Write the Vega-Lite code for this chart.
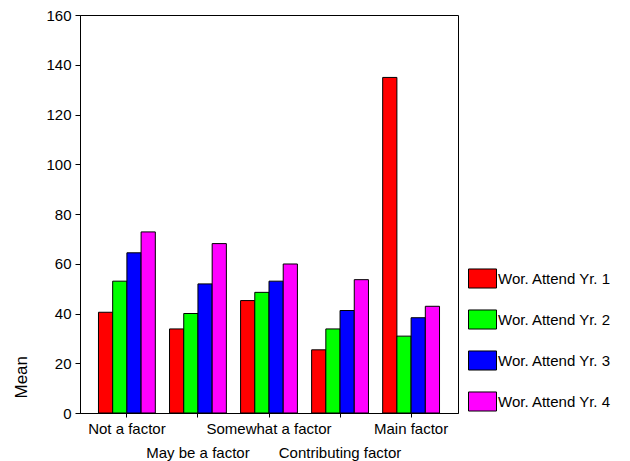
{
  "$schema": "https://vega.github.io/schema/vega-lite/v6.json",
  "width": 378,
  "height": 398,
  "autosize": {"type": "none"},
  "padding": {"left": 80, "top": 15, "right": 172, "bottom": 48},
  "background": "white",
  "data": {"values": [
    {"factor": "Not a factor", "series": "Wor. Attend Yr. 1", "mean": 40.5},
    {"factor": "Not a factor", "series": "Wor. Attend Yr. 2", "mean": 53.0},
    {"factor": "Not a factor", "series": "Wor. Attend Yr. 3", "mean": 64.4},
    {"factor": "Not a factor", "series": "Wor. Attend Yr. 4", "mean": 72.8},
    {"factor": "May be a factor", "series": "Wor. Attend Yr. 1", "mean": 33.8},
    {"factor": "May be a factor", "series": "Wor. Attend Yr. 2", "mean": 40.0},
    {"factor": "May be a factor", "series": "Wor. Attend Yr. 3", "mean": 51.9},
    {"factor": "May be a factor", "series": "Wor. Attend Yr. 4", "mean": 68.1},
    {"factor": "Somewhat a factor", "series": "Wor. Attend Yr. 1", "mean": 45.2},
    {"factor": "Somewhat a factor", "series": "Wor. Attend Yr. 2", "mean": 48.5},
    {"factor": "Somewhat a factor", "series": "Wor. Attend Yr. 3", "mean": 53.0},
    {"factor": "Somewhat a factor", "series": "Wor. Attend Yr. 4", "mean": 59.9},
    {"factor": "Contributing factor", "series": "Wor. Attend Yr. 1", "mean": 25.4},
    {"factor": "Contributing factor", "series": "Wor. Attend Yr. 2", "mean": 33.8},
    {"factor": "Contributing factor", "series": "Wor. Attend Yr. 3", "mean": 41.2},
    {"factor": "Contributing factor", "series": "Wor. Attend Yr. 4", "mean": 53.6},
    {"factor": "Main factor", "series": "Wor. Attend Yr. 1", "mean": 134.9},
    {"factor": "Main factor", "series": "Wor. Attend Yr. 2", "mean": 30.9},
    {"factor": "Main factor", "series": "Wor. Attend Yr. 3", "mean": 38.3},
    {"factor": "Main factor", "series": "Wor. Attend Yr. 4", "mean": 42.9}
  ]},
  "mark": {"type": "bar", "stroke": "black", "strokeWidth": 1},
  "encoding": {
    "x": {
      "field": "factor", "type": "nominal",
      "sort": ["Not a factor", "May be a factor", "Somewhat a factor", "Contributing factor", "Main factor"],
      "scale": {"paddingInner": 0.2, "paddingOuter": 0.26},
      "axis": {
        "title": null, "labelAngle": 0, "labelFontSize": 15, "labelColor": "black",
        "labelExpr": "datum.value == 'May be a factor' || datum.value == 'Contributing factor' ? ['', datum.label] : datum.label",
        "labelLineHeight": 24, "labelPadding": 4, "tickSize": 4, "tickColor": "black",
        "domainColor": "black", "labelOverlap": false, "labelBound": false
      }
    },
    "xOffset": {"field": "series", "type": "nominal", "scale": {"paddingInner": 0, "paddingOuter": 0}},
    "y": {
      "field": "mean", "type": "quantitative",
      "scale": {"domain": [0, 160], "nice": false},
      "axis": {
        "title": "Mean", "grid": false, "values": [0, 20, 40, 60, 80, 100, 120, 140, 160],
        "labelFontSize": 15, "labelColor": "black", "tickSize": 5, "tickColor": "black",
        "domainColor": "black", "labelPadding": 4,
        "titleFontSize": 17, "titleFontWeight": "normal", "titleColor": "black",
        "titleAngle": 270, "titleAlign": "left", "titleBaseline": "alphabetic",
        "titleX": -54, "titleY": 383
      }
    },
    "fill": {
      "field": "series", "type": "nominal",
      "scale": {"range": ["#FF0000", "#00FF00", "#0000FF", "#FF00FF"]},
      "legend": {
        "title": null, "orient": "none", "legendX": 388, "legendY": 249,
        "symbolType": "M-1,-0.68L1,-0.68L1,0.68L-1,0.68Z", "symbolSize": 784,
        "symbolStrokeColor": "black", "symbolStrokeWidth": 1,
        "labelFontSize": 15, "labelColor": "black", "labelOffset": 1,
        "rowPadding": 14
      }
    }
  },
  "config": {
    "font": "Liberation Sans",
    "view": {"stroke": "black", "strokeWidth": 1},
    "axis": {"domainWidth": 1, "tickWidth": 1}
  }
}
